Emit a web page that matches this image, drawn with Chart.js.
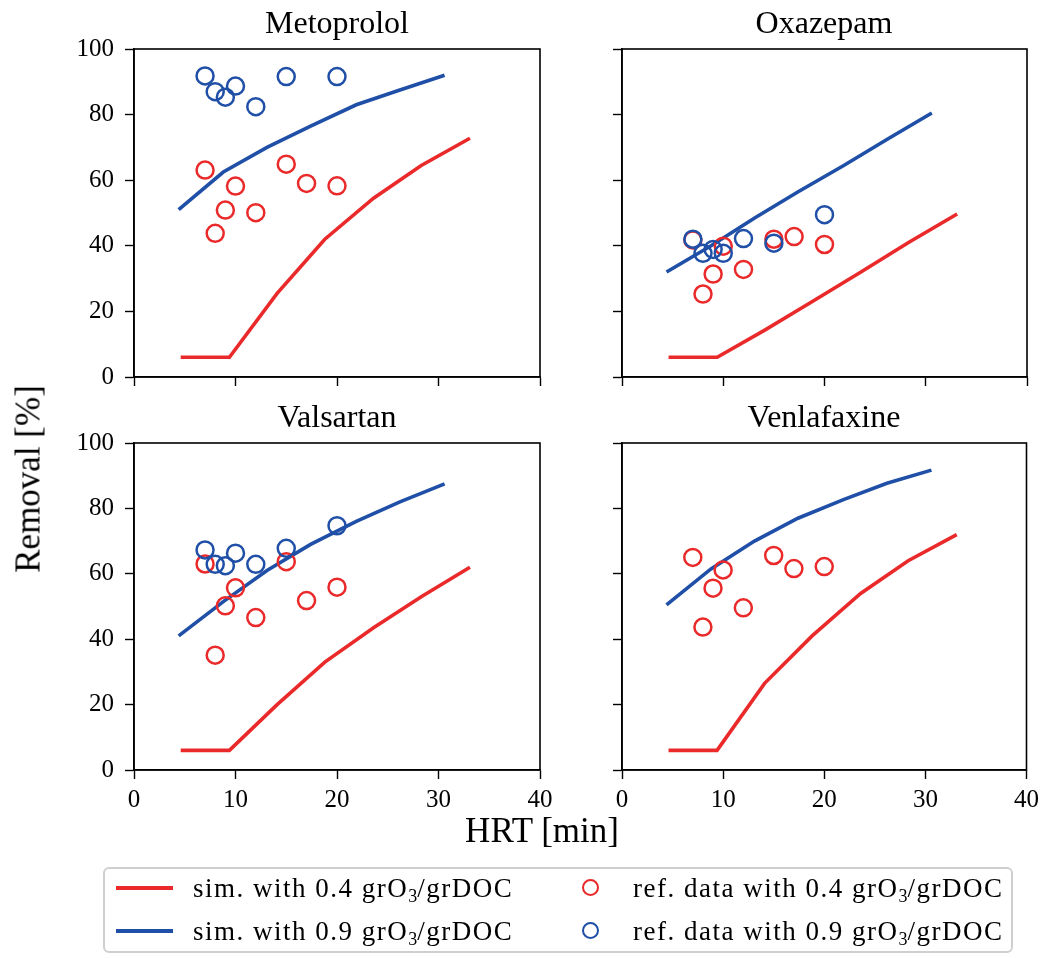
<!DOCTYPE html>
<html>
<head>
<meta charset="utf-8">
<script src="https://cdn.jsdelivr.net/npm/chart.js@4.4.0/dist/chart.umd.min.js"></script>
<style>
  html, body { margin: 0; padding: 0; background: #fff; }
  body { width: 1045px; height: 958px; position: relative; overflow: hidden; font-family: "Liberation Serif", serif; color: #000; }
  canvas.panel { position: absolute; left: 0; top: 0; }
  .txt { position: absolute; white-space: nowrap; line-height: 1; }
  .title { font-size: 32px; transform: translateX(-50%); }
  #legend { position: absolute; left: 103px; top: 867px; width: 910px; height: 86px; border: 2px solid #cfcfcf; border-radius: 6px; box-sizing: border-box; }
  .lg { position: absolute; font-size: 27px; letter-spacing: 1.5px; line-height: 1; white-space: nowrap; }
  .lg sub { font-size: 18px; vertical-align: -5px; line-height: 0; letter-spacing: 0; }
  .sw { position: absolute; height: 3.5px; width: 57px; }
  .mk { position: absolute; width: 13px; height: 13px; border-radius: 50%; border: 2.4px solid; box-sizing: content-box; }
</style>
</head>
<body>
<canvas id="c0" class="panel" width="1045" height="958"></canvas>
<canvas id="c1" class="panel" width="1045" height="958"></canvas>
<canvas id="c2" class="panel" width="1045" height="958"></canvas>
<canvas id="c3" class="panel" width="1045" height="958"></canvas>

<div class="txt title" style="left:337px; top:6px;">Metoprolol</div>
<div class="txt title" style="left:824px; top:6px;">Oxazepam</div>
<div class="txt title" style="left:337px; top:400px;">Valsartan</div>
<div class="txt title" style="left:824px; top:400px;">Venlafaxine</div>

<div class="txt" style="left:542px; top:813px; font-size:35px; transform:translateX(-50%);">HRT [min]</div>
<div class="txt" style="left:28px; top:479px; font-size:35px; transform:translate(-50%,-50%) rotate(-90deg);">Removal [%]</div>

<div id="legend">
  <div class="sw" style="left:11px; top:17px; background:#ea2a2a;"></div>
  <div class="lg" style="left:88px; top:6px;">sim. with 0.4 grO<sub>3</sub>/grDOC</div>
  <div class="sw" style="left:11px; top:60px; background:#1f4fa6;"></div>
  <div class="lg" style="left:88px; top:49px;">sim. with 0.9 grO<sub>3</sub>/grDOC</div>
  <div class="mk" style="left:477px; top:10px; border-color:#ea2a2a;"></div>
  <div class="lg" style="left:528px; top:6px;">ref. data with 0.4 grO<sub>3</sub>/grDOC</div>
  <div class="mk" style="left:477px; top:53px; border-color:#1f4fa6;"></div>
  <div class="lg" style="left:528px; top:49px;">ref. data with 0.9 grO<sub>3</sub>/grDOC</div>
</div>

<script>
// ---- Data ----
const refLowHRT  = [7, 8, 9, 10, 12, 15, 17, 20];
const refHighHRT = [7, 8, 9, 10, 12, 15, 20];
const simLowHRT  = [4.6, 9.4, 14.1, 18.8, 23.6, 28.3, 33.1];
const simHighHRT = [4.4, 8.8, 13.1, 17.4, 21.9, 26.2, 30.6];

const xTicks = [0, 10, 20, 30, 40];
const yTicks = [0, 20, 40, 60, 80, 100];

const compounds = ["Metoprolol", "Oxazepam", "Valsartan", "Venlafaxine"];

const metoprololSimLow  = [6, 6, 25.5, 42, 54.5, 64.5, 72.8];
const metoprololSimHigh = [51, 62.5, 70, 76.5, 83, 87.5, 92];
const metoprololRefLow  = [63.1, 43.8, 50.9, 58.2, 50.1, 64.9, 59.0, 58.3];
const metoprololRefHigh = [91.8, 87.0, 85.3, 88.7, 82.4, 91.6, 91.6];

const oxazepamSimLow  = [6, 6, 14.3, 23, 32, 41, 49.7];
const oxazepamSimHigh = [32, 40, 48.5, 56.5, 64.5, 72.5, 80.5];
const oxazepamRefLow  = [41.8, 25.3, 31.4, 39.9, 32.8, 42.0, 42.8, 40.4];
const oxazepamRefHigh = [42.0, 37.7, 38.9, 37.7, 42.2, 40.8, 49.5];

const valsartanSimLow  = [6, 6, 20, 33, 43.5, 53, 62];
const valsartanSimHigh = [41, 51.5, 61, 69, 76, 82, 87.5];
const valsartanRefLow  = [63.0, 35.1, 50.2, 55.7, 46.6, 63.7, 51.8, 55.9];
const valsartanRefHigh = [67.3, 62.9, 62.5, 66.3, 62.9, 67.8, 74.7];

const venlafaxineSimLow  = [6, 6, 26.5, 41, 54, 64, 72];
const venlafaxineSimHigh = [50.5, 61.5, 70, 77, 82.7, 87.7, 91.7];
const venlafaxineRefLow  = [65.0, 43.7, 55.6, 61.2, 49.6, 65.6, 61.6, 62.2];
const venlafaxineRefHigh = [];

const RED = "#ea2a2a";
const BLUE = "#1f4fa6";

const pair = (xs, ys) => ys.map((v, i) => ({ x: xs[i], y: v }));

const panels = [
  { sl: metoprololSimLow, sh: metoprololSimHigh, rl: metoprololRefLow, rh: metoprololRefHigh, L: 134, R: 540, T: 49, B: 377, showX: false, showY: true },
  { sl: oxazepamSimLow, sh: oxazepamSimHigh, rl: oxazepamRefLow, rh: oxazepamRefHigh, L: 622, R: 1027, T: 49, B: 377, showX: false, showY: false },
  { sl: valsartanSimLow, sh: valsartanSimHigh, rl: valsartanRefLow, rh: valsartanRefHigh, L: 134, R: 540, T: 443, B: 770, showX: true, showY: true },
  { sl: venlafaxineSimLow, sh: venlafaxineSimHigh, rl: venlafaxineRefLow, rh: venlafaxineRefHigh, L: 622, R: 1027, T: 443, B: 770, showX: true, showY: false },
];

const W = 1045, H = 958, YW = 60, XH = 40;

const frame = {
  id: "frame",
  afterDraw(chart) {
    const a = chart.chartArea, ctx = chart.ctx;
    ctx.save();
    ctx.strokeStyle = "#000";
    ctx.lineWidth = 1.6;
    ctx.strokeRect(a.left, a.top, a.right - a.left, a.bottom - a.top);
    ctx.restore();
  }
};

const font = { family: "'Liberation Serif', serif", size: 25 };

panels.forEach((p, i) => {
  new Chart(document.getElementById("c" + i), {
    type: "scatter",
    data: {
      datasets: [
        { data: pair(refHighHRT, p.rh), showLine: false, pointRadius: 8.5, pointHoverRadius: 8.5, pointBorderWidth: 2.5, borderColor: BLUE, backgroundColor: "rgba(0,0,0,0)", pointBackgroundColor: "rgba(0,0,0,0)" },
        { data: pair(refLowHRT, p.rl), showLine: false, pointRadius: 8.5, pointHoverRadius: 8.5, pointBorderWidth: 2.5, borderColor: RED, backgroundColor: "rgba(0,0,0,0)", pointBackgroundColor: "rgba(0,0,0,0)" },
        { data: pair(simHighHRT, p.sh), showLine: true, pointRadius: 0, borderWidth: 3.6, borderColor: BLUE, tension: 0, fill: false },
        { data: pair(simLowHRT, p.sl), showLine: true, pointRadius: 0, borderWidth: 3.6, borderColor: RED, tension: 0, fill: false },
      ]
    },
    options: {
      responsive: false,
      animation: false,
      events: [],
      layout: { padding: { left: p.L - YW, right: W - p.R, top: p.T, bottom: H - p.B - XH } },
      plugins: { legend: { display: false }, tooltip: { enabled: false }, title: { display: false } },
      scales: {
        x: {
          type: "linear", min: 0, max: 40,
          afterBuildTicks: (s) => { s.ticks = xTicks.map(v => ({ value: v })); },
          afterFit: (s) => { s.height = XH; },
          grid: { display: true, drawOnChartArea: false, drawTicks: true, tickLength: 9, tickWidth: 1.4, tickColor: "#000" },
          border: { display: true, color: "#000", width: 1.6 },
          ticks: { display: p.showX, color: "#000", font: font, padding: 6, maxRotation: 0 }
        },
        y: {
          type: "linear", min: 0, max: 100,
          afterBuildTicks: (s) => { s.ticks = yTicks.map(v => ({ value: v })); },
          afterFit: (s) => { s.width = YW; },
          grid: { display: true, drawOnChartArea: false, drawTicks: true, tickLength: 9, tickWidth: 1.4, tickColor: "#000" },
          border: { display: true, color: "#000", width: 1.6 },
          ticks: { display: p.showY, color: "#000", font: font, padding: 11 }
        }
      }
    },
    plugins: [frame]
  });
});
</script>
</body>
</html>
